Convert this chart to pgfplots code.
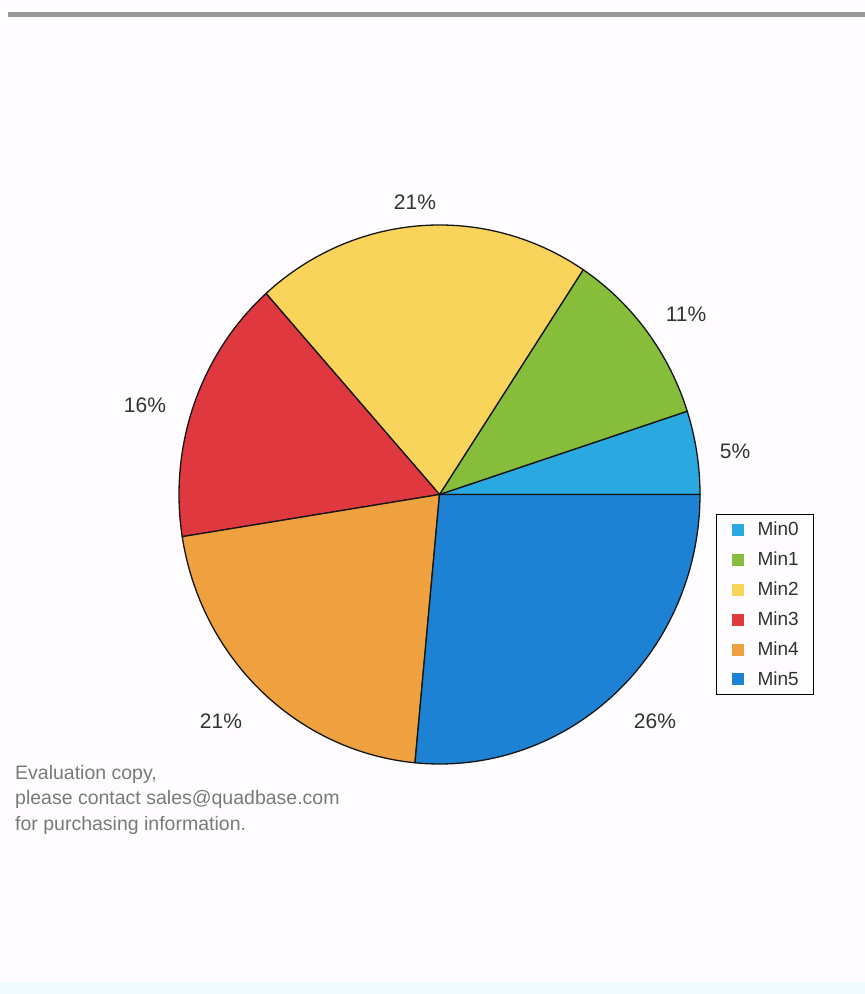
\documentclass[border=0pt]{standalone}
\usepackage{pgfplots}
\pgfplotsset{compat=1.18}
\usepackage{pgfplotstable}
\usepackage{fontspec}
\setmainfont{Liberation Sans}
\definecolor{c0}{HTML}{2AA8E0}
\definecolor{c1}{HTML}{86BD3B}
\definecolor{c2}{HTML}{F8D45A}
\definecolor{c3}{HTML}{E0383F}
\definecolor{c4}{HTML}{EFA13F}
\definecolor{c5}{HTML}{1D82D4}
\definecolor{edgecol}{HTML}{151515}
\definecolor{bgcol}{HTML}{FEFCFE}
\definecolor{bandcol}{HTML}{F1FAFC}
\definecolor{rulecol}{HTML}{999999}
\definecolor{labelcol}{HTML}{333333}
\definecolor{evalcol}{HTML}{7A7A7A}

\pgfplotstableread{
name value
Min0 5.0
Min1 10.7
Min2 20.9
Min3 15.9
Min4 21.0
Min5 26.5
}\piedata

\begin{document}
\begin{tikzpicture}[x=1pt,y=1pt]
\useasboundingbox (0,0) rectangle (865,994);
\fill[bgcol] (0,0) rectangle (865,994);
\fill[bandcol] (0,0) rectangle (865,12);
\fill[rulecol] (8,976.5) rectangle (865,981.5);
\begin{axis}[
  at={(439.5pt,499.5pt)}, anchor=origin,
  x=260.5pt, y=269.5pt,
  xmin=-1, xmax=1, ymin=-1, ymax=1,
  hide axis, clip=false,
  legend style={at={(1.0307,0.4638)}, anchor=north west,
    draw=black, line width=1pt, fill=bgcol,
    font=\fontsize{19}{22}\selectfont, text=labelcol,
    inner xsep=15pt, inner ysep=7.5pt,
    row sep=14.7pt,
    nodes={inner sep=0pt},
    /tikz/every odd column/.append style={column sep=14pt}},
  legend cell align=left,
  legend image code/.code={\fill[#1,draw=none] (0pt,-6pt) rectangle (12pt,6pt);},
]
\def\startang{0}
\pgfplotsforeachungrouped \i in {0,...,5}{%
  \pgfplotstablegetelem{\i}{value}\of\piedata
  \let\val\pgfplotsretval
  \pgfplotstablegetelem{\i}{name}\of\piedata
  \let\nm\pgfplotsretval
  \pgfmathsetmacro\endang{\startang+3.6*\val}%
  \edef\cmd{\noexpand\addplot[fill=c\i, draw=edgecol, line width=1.3pt, line join=round, domain=\startang:\endang, samples=80, variable=\noexpand\t] ({cos(\noexpand\t)},{sin(\noexpand\t)}) -- (axis cs:0,0) -- cycle; \noexpand\addlegendentry{\nm}}%
  \cmd
  \xdef\startang{\endang}%
}
\end{axis}
\begin{scope}[every node/.style={font=\fontsize{21}{24}\selectfont, text=labelcol}]
\node at (415,792) {21\%};
\node at (686,680) {11\%};
\node at (735,543) {5\%};
\node at (145,589) {16\%};
\node at (221,273) {21\%};
\node at (655,273) {26\%};
\end{scope}
\begin{scope}[every node/.style={font=\fontsize{19.5}{24}\selectfont, text=evalcol, anchor=base west, inner sep=0pt}]
\node at (15,214) {Evaluation copy,};
\node at (15,189) {please contact sales@quadbase.com};
\node at (15,163) {for purchasing information.};
\end{scope}
\end{tikzpicture}
\end{document}
